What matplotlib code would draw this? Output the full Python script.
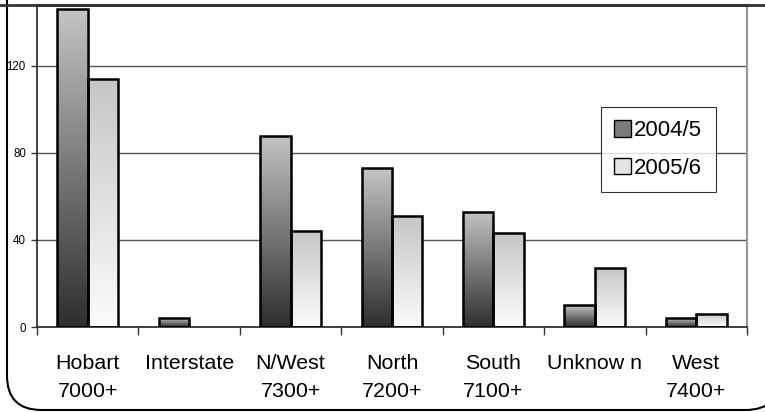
import numpy as np
import matplotlib.pyplot as plt
from matplotlib.patches import FancyBboxPatch, Patch
from matplotlib.colors import LinearSegmentedColormap
from matplotlib.lines import Line2D

regions = ['Hobart\n7000+', 'Interstate', 'N/West\n7300+', 'North\n7200+',
           'South\n7100+', 'Unknow n', 'West\n7400+']
y2004 = [146, 4, 88, 73, 53, 10, 4]
y2005 = [114, 0, 44, 51, 43, 27, 6]
yticks = [0, 40, 80, 120]

W, H = 765, 412
fig = plt.figure(figsize=(W / 100, H / 100), dpi=100)
plt.rcParams['font.family'] = ['Liberation Sans', 'DejaVu Sans']

# plot area in pixel terms: x 37..747, y 5..327
ax = fig.add_axes([37 / W, 1 - 327 / H, 710 / W, 322 / H])

dark = LinearSegmentedColormap.from_list('dk', ['#2e2e2e', '#c4c4c4'])
light = LinearSegmentedColormap.from_list('lt', ['#fbfbfb', '#c6c6c6'])
grad = np.linspace(0, 1, 256).reshape(-1, 1)

bw = 0.3
x = np.arange(len(regions))


def grad_bars(xs, vals, cmap):
    bars = ax.bar(xs, vals, bw, facecolor='none', edgecolor='black', lw=1.8, zorder=3)
    for b, v in zip(bars, vals):
        if v <= 0:
            b.set_visible(False)
            continue
        x0 = b.get_x()
        im = ax.imshow(grad, extent=[x0, x0 + bw, 0, v], origin='lower', aspect='auto',
                       cmap=cmap, zorder=2, interpolation='bilinear')
        im.set_clip_path(b)
    return bars


grad_bars(x - bw / 2, y2004, dark)
grad_bars(x + bw / 2, y2005, light)

ax.set_xlim(-0.5, len(regions) - 0.5)
ax.set_ylim(0, 148)
ax.set_yticks(yticks)
ax.set_yticklabels([str(t) for t in yticks], fontsize=8.3)
ax.yaxis.grid(True, color='#555555', lw=1)
ax.set_axisbelow(True)

ax.set_xticks(np.arange(len(regions) + 1) - 0.5)
ax.set_xticklabels([])
ax.tick_params(axis='x', direction='out', length=6, width=1, color='#333333')
ax.tick_params(axis='y', direction='out', length=4, width=1, pad=4, color='#333333')
for i, r in enumerate(regions):
    ax.text(i, -12.5, r, ha='center', va='top', fontsize=15.4, linespacing=1.6)

ax.spines['left'].set_color('#222222')
ax.spines['bottom'].set_color('#222222')
ax.spines['right'].set_color('#999999')
ax.spines['right'].set_lw(1.6)
ax.spines['top'].set_color('#333333')
ax.spines['top'].set_lw(2)
for s in ['left', 'bottom']:
    ax.spines[s].set_lw(1.2)

handles = [Patch(facecolor='#7a7a7a', edgecolor='black', label='2004/5'),
           Patch(facecolor='#e4e4e4', edgecolor='black', label='2005/6')]
leg = ax.legend(handles=handles, loc='upper left',
                bbox_to_anchor=((601 - 37) / 710, 1 - (107 - 5) / 322),
                fontsize=16, frameon=True, fancybox=False, edgecolor='black',
                handlelength=0.75, handleheight=0.75, handletextpad=0.15,
                borderpad=0.6, labelspacing=0.75, borderaxespad=0)
leg.get_frame().set_linewidth(0.8)

# rounded outer frame
frame = FancyBboxPatch((7 / W, 2 / H), 773 / W, 1.2,
                       boxstyle='round,pad=0,rounding_size=0.045', transform=fig.transFigure,
                       facecolor='none', edgecolor='black', lw=1.5, zorder=0,
                       mutation_aspect=W / H)
fig.patches.append(frame)
fig.add_artist(Line2D([0, 1], [1 - 5 / H, 1 - 5 / H], transform=fig.transFigure,
                      color='#333333', lw=2))

fig.savefig('out.png', dpi=100)
